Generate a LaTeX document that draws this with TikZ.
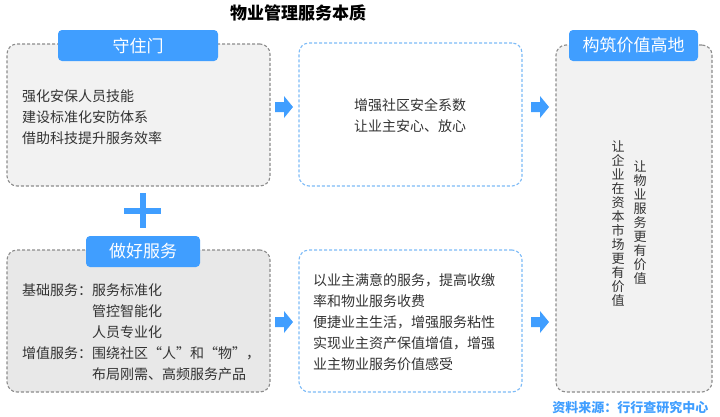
\documentclass[tikz,border=0pt]{standalone}
\usepackage{fontspec}
\setmainfont{Noto Sans CJK SC}
\definecolor{tagblue}{HTML}{409EFF}
\definecolor{lineblue}{HTML}{7DBBF7}
\definecolor{linegray}{HTML}{8C8C8C}
\definecolor{fillgray}{HTML}{F2F2F2}
\definecolor{filldark}{HTML}{E8E8E8}
\definecolor{txtgray}{HTML}{333333}
\newcommand{\fs}[2]{\fontsize{#1pt}{#2pt}\selectfont}
\begin{document}
\begin{tikzpicture}[x=1pt, y=-1pt, line join=round,
	box/.style={rounded corners=10pt, dash pattern=on 3pt off 2pt, line width=1.1pt, inner sep=0pt},
	graybox/.style={box, draw=linegray, fill=fillgray},
	bluebox/.style={box, draw=lineblue, fill=white},
	tag/.style={fill=tagblue, rounded corners=4pt, text=white, font=\fs{17}{20}, inner sep=0pt, minimum height=31pt},
	txt/.style={text=txtgray, font=\fs{14}{21}, align=left, inner sep=0pt},
	vtxt/.style={text=txtgray, font=\fs{13}{14}, align=center, inner sep=0pt}]
	\useasboundingbox (0,0) rectangle (720,416);
	% title
	\node[font=\bfseries\fs{17}{20}, text=black] (title) at (298,13) {物业管理服务本质};
	% boxes
	\node[graybox, minimum width=263pt, minimum height=142pt] (guard) at (138.5,115) {};
	\node[bluebox, minimum width=223pt, minimum height=143pt] (safe) at (410.5,114.5) {};
	\node[graybox, fill=filldark, minimum width=263pt, minimum height=142pt] (serve) at (138.5,321) {};
	\node[bluebox, minimum width=223pt, minimum height=142pt] (value) at (410.5,321) {};
	\node[graybox, minimum width=156pt, minimum height=347pt] (high) at (634,218.5) {};
	% tags
	\node[tag, minimum width=160pt] (tguard) at (138,45.5) {守住门};
	\node[tag, minimum width=114pt] (tserve) at (143,251.5) {做好服务};
	\node[tag, minimum width=129pt] (thigh) at (633.5,45.5) {构筑价值高地};
	% texts
	\node[txt, anchor=west] (g1) at (22,117) {强化安保人员技能\\建设标准化安防体系\\借助科技提升服务效率};
	\node[txt] (s1) at (410,116) {增强社区安全系数\\让业主安心、放心};
	\node[txt, anchor=west] (f1) at (22,332) {基础服务：服务标准化\\\phantom{基础服务：}管控智能化\\\phantom{基础服务：}人员专业化\\增值服务：围绕社区“人”和“物”，\\\phantom{增值服务：}布局刚需、高频服务产品};
	\node[txt, anchor=west] (v1) at (313,322) {以业主满意的服务，提高收缴\\率和物业服务收费\\便捷业主生活，增强服务粘性\\实现业主资产保值增值，增强\\业主物业服务价值感受};
	\node[vtxt] (h1) at (618,224) {让\\企\\业\\在\\资\\本\\市\\场\\更\\有\\价\\值};
	\node[vtxt] (h2) at (640,223) {让\\物\\业\\服\\务\\更\\有\\价\\值};
	% plus
	\fill[tagblue] (124,208) rectangle (161,214);
	\fill[tagblue] (139.5,193) rectangle (146,228);
	% arrows
	\foreach \ax/\ay in {284/107, 540/107, 284/322, 540/322}
		\fill[tagblue] (\ax,\ay) ++(-9,-5) -- ++(9,0) -- ++(0,-6) -- ++(9,11) -- ++(-9,11) -- ++(0,-6) -- ++(-9,0) -- cycle;
	% source
	\node[font=\bfseries\fs{13}{15}, text=tagblue, anchor=east] (src) at (712,408) {资料来源：行行查研究中心};
\end{tikzpicture}
\end{document}
